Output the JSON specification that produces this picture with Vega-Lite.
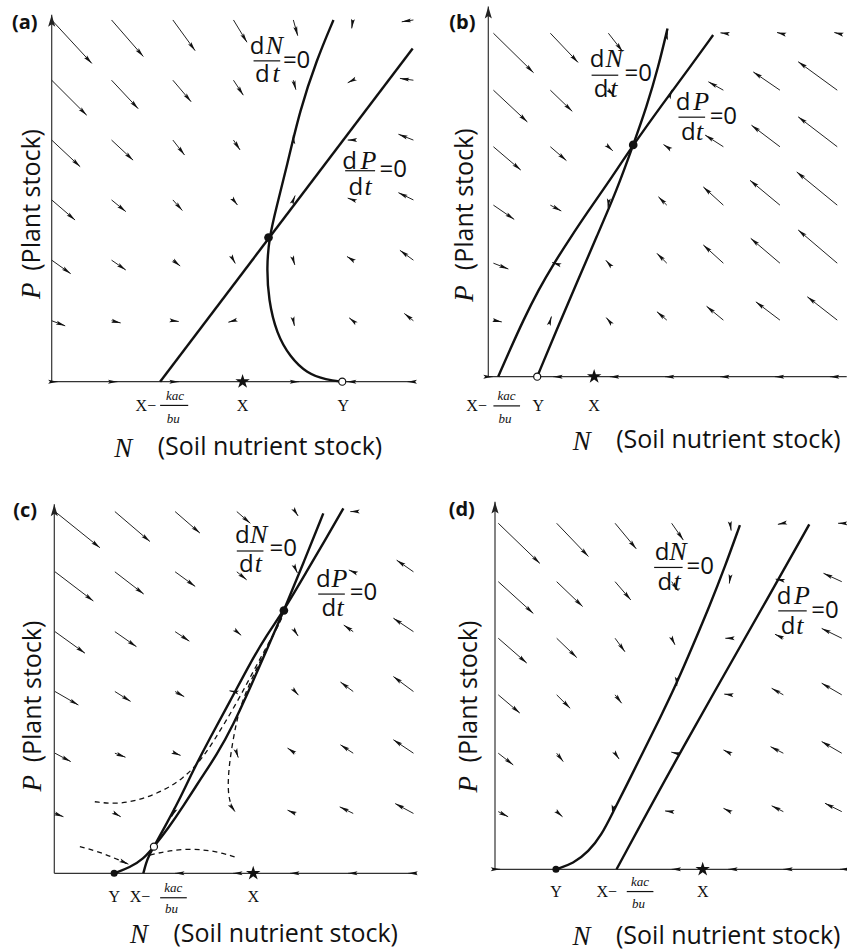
{
"$schema":"https://vega.github.io/schema/vega-lite/v6.json",
"background":"white",
"padding":0,
"config":{"view":{"stroke":null}},
"datasets":{
"ax":[
{"g":"a","n":0,"p":0,"n2":99.5,"p2":0},{"g":"a","n":0,"p":0,"n2":0,"p2":100.5},
{"g":"b","n":0,"p":0,"n2":98.2,"p2":0},{"g":"b","n":0,"p":0,"n2":0,"p2":101.4},
{"g":"c","n":0,"p":0,"n2":99.3,"p2":0},{"g":"c","n":0,"p":0,"n2":0,"p2":101.1},
{"g":"d","n":0,"p":0,"n2":96.3,"p2":0},{"g":"d","n":0,"p":0,"n2":0,"p2":100.7}],
"tip":[{"g":"a","n":0,"p":100.5},{"g":"b","n":0,"p":101.4},{"g":"c","n":0,"p":101.1},{"g":"d","n":0,"p":100.7}],
"vec":[
{"g":"a","n":0,"p":99.1,"n2":11.0,"p2":87.2},{"g":"a","n":16.4,"p":99.1,"n2":25.1,"p2":89.1},{"g":"a","n":33.2,"p":99.1,"n2":39.3,"p2":90.7},{"g":"a","n":49.8,"p":99.1,"n2":53.5,"p2":93.0},{"g":"a","n":66.2,"p":99.1,"n2":67.4,"p2":94.8},{"g":"a","n":82.5,"p":99.1,"n2":82.2,"p2":96.8},{"g":"a","n":99.1,"p":99.1,"n2":95.9,"p2":98.6},
{"g":"a","n":0,"p":82.6,"n2":9.6,"p2":73.0},{"g":"a","n":16.4,"p":82.6,"n2":23.7,"p2":74.8},{"g":"a","n":33.2,"p":82.6,"n2":38.2,"p2":76.7},{"g":"a","n":49.8,"p":82.6,"n2":52.5,"p2":78.5},{"g":"a","n":66.2,"p":82.6,"n2":66.9,"p2":80.0},{"g":"a","n":82.5,"p":82.6,"n2":81.1,"p2":81.9},{"g":"a","n":99.1,"p":82.6,"n2":95.4,"p2":83.1},
{"g":"a","n":0,"p":66.2,"n2":7.8,"p2":58.9},{"g":"a","n":16.4,"p":66.2,"n2":22.3,"p2":60.7},{"g":"a","n":33.2,"p":66.2,"n2":36.4,"p2":62.1},{"g":"a","n":49.8,"p":66.2,"n2":51.6,"p2":63.5},{"g":"a","n":66.2,"p":66.2,"n2":66.2,"p2":67.6},{"g":"a","n":82.5,"p":66.2,"n2":81.1,"p2":66.2},{"g":"a","n":99.1,"p":66.2,"n2":95.0,"p2":67.8},
{"g":"a","n":0,"p":49.8,"n2":6.4,"p2":44.3},{"g":"a","n":16.4,"p":49.8,"n2":20.3,"p2":46.6},{"g":"a","n":33.2,"p":49.8,"n2":35.8,"p2":46.9},{"g":"a","n":49.8,"p":49.8,"n2":50.9,"p2":48.4},{"g":"a","n":66.2,"p":49.8,"n2":66.7,"p2":51.0},{"g":"a","n":82.5,"p":49.8,"n2":81.1,"p2":50.3},{"g":"a","n":99.1,"p":49.8,"n2":95.0,"p2":51.8},
{"g":"a","n":0,"p":33.3,"n2":5.2,"p2":29.6},{"g":"a","n":16.4,"p":33.3,"n2":20.3,"p2":30.6},{"g":"a","n":33.2,"p":33.3,"n2":35.2,"p2":31.7},{"g":"a","n":49.8,"p":33.3,"n2":50.3,"p2":32.4},{"g":"a","n":66.2,"p":33.3,"n2":66.6,"p2":32.0},{"g":"a","n":82.5,"p":33.3,"n2":80.9,"p2":34.3},{"g":"a","n":99.1,"p":33.3,"n2":95.4,"p2":36.0},
{"g":"a","n":0,"p":16.7,"n2":3.7,"p2":15.3},{"g":"a","n":16.4,"p":16.7,"n2":18.9,"p2":16.1},{"g":"a","n":33.2,"p":16.7,"n2":34.8,"p2":16.5},{"g":"a","n":49.8,"p":16.7,"n2":48.4,"p2":16.3},{"g":"a","n":66.2,"p":16.7,"n2":66.5,"p2":15.3},{"g":"a","n":82.5,"p":16.7,"n2":81.5,"p2":17.5},{"g":"a","n":99.1,"p":16.7,"n2":96.6,"p2":18.7},
{"g":"a","n":0,"p":0,"n2":1.6,"p2":0},{"g":"a","n":16.4,"p":0,"n2":18.0,"p2":0},{"g":"a","n":33.2,"p":0,"n2":34.8,"p2":0},{"g":"a","n":66.2,"p":0,"n2":67.8,"p2":0},{"g":"a","n":82.5,"p":0,"n2":80.9,"p2":0},{"g":"a","n":99.1,"p":0,"n2":97.5,"p2":0},
{"g":"b","n":1.4,"p":94.1,"n2":12.4,"p2":83.3},{"g":"b","n":17.0,"p":94.1,"n2":24.6,"p2":86.1},{"g":"b","n":32.9,"p":94.1,"n2":36.8,"p2":89.1},{"g":"b","n":48.9,"p":93.6,"n2":49.1,"p2":94.8},{"g":"b","n":64.4,"p":94.1,"n2":63.6,"p2":94.2},{"g":"b","n":79.9,"p":94.1,"n2":79.1,"p2":94.3},{"g":"b","n":95.6,"p":94.1,"n2":94.8,"p2":94.3},
{"g":"b","n":1.4,"p":78.5,"n2":10.7,"p2":69.8},{"g":"b","n":17.0,"p":78.5,"n2":23.0,"p2":72.7},{"g":"b","n":32.9,"p":78.5,"n2":34.5,"p2":77.0},{"g":"b","n":49.9,"p":77.5,"n2":50.3,"p2":78.6},{"g":"b","n":64.4,"p":78.5,"n2":60.3,"p2":80.8},{"g":"b","n":79.9,"p":78.5,"n2":72.6,"p2":83.5},{"g":"b","n":95.6,"p":78.5,"n2":84.9,"p2":86.3},
{"g":"b","n":1.4,"p":63.0,"n2":8.9,"p2":56.6},{"g":"b","n":17.0,"p":63.0,"n2":21.4,"p2":59.2},{"g":"b","n":32.9,"p":63.0,"n2":34.1,"p2":61.9},{"g":"b","n":48.9,"p":63.0,"n2":48.0,"p2":63.6},{"g":"b","n":64.4,"p":63.0,"n2":59.4,"p2":66.2},{"g":"b","n":79.9,"p":63.0,"n2":72.1,"p2":68.9},{"g":"b","n":95.6,"p":63.0,"n2":84.9,"p2":71.2},
{"g":"b","n":1.4,"p":47.0,"n2":7.1,"p2":43.1},{"g":"b","n":17.0,"p":47.0,"n2":20.0,"p2":45.4},{"g":"b","n":32.9,"p":47.4,"n2":32.8,"p2":46.3},{"g":"b","n":48.9,"p":47.0,"n2":46.6,"p2":49.3},{"g":"b","n":64.4,"p":47.0,"n2":58.9,"p2":52.0},{"g":"b","n":79.9,"p":47.0,"n2":71.7,"p2":53.8},{"g":"b","n":95.6,"p":47.0,"n2":84.5,"p2":56.1},
{"g":"b","n":1.4,"p":31.1,"n2":5.5,"p2":29.5},{"g":"b","n":18.4,"p":31.0,"n2":17.5,"p2":31.3},{"g":"b","n":32.9,"p":31.1,"n2":32.2,"p2":31.9},{"g":"b","n":48.9,"p":31.1,"n2":46.2,"p2":33.8},{"g":"b","n":64.4,"p":31.1,"n2":58.9,"p2":36.1},{"g":"b","n":79.9,"p":31.1,"n2":71.9,"p2":37.9},{"g":"b","n":95.6,"p":31.1,"n2":84.9,"p2":40.2},
{"g":"b","n":1.4,"p":15.5,"n2":3.7,"p2":15.0},{"g":"b","n":17.0,"p":15.5,"n2":17.3,"p2":16.5},{"g":"b","n":32.9,"p":15.5,"n2":32.3,"p2":16.2},{"g":"b","n":48.9,"p":15.5,"n2":46.2,"p2":17.8},{"g":"b","n":64.4,"p":15.5,"n2":59.8,"p2":19.3},{"g":"b","n":79.9,"p":15.5,"n2":73.3,"p2":20.5},{"g":"b","n":95.6,"p":15.5,"n2":87.4,"p2":21.9},
{"g":"b","n":0,"p":0,"n2":1.2,"p2":0},{"g":"b","n":19.4,"p":0,"n2":17.8,"p2":0},{"g":"b","n":34.9,"p":0,"n2":33.3,"p2":0},{"g":"b","n":50.0,"p":0,"n2":48.4,"p2":0},{"g":"b","n":65.1,"p":0,"n2":63.5,"p2":0},{"g":"b","n":80.1,"p":0,"n2":78.5,"p2":0},{"g":"b","n":95.2,"p":0,"n2":93.6,"p2":0},
{"g":"c","n":0.2,"p":99.1,"n2":12.5,"p2":89.2},{"g":"c","n":16.6,"p":99.1,"n2":26.2,"p2":90.9},{"g":"c","n":33.1,"p":99.1,"n2":39.9,"p2":93.2},{"g":"c","n":50.0,"p":99.1,"n2":53.7,"p2":95.9},{"g":"c","n":66.0,"p":99.1,"n2":66.8,"p2":97.9},{"g":"c","n":81.9,"p":99.1,"n2":81.1,"p2":99.1},
{"g":"c","n":0.2,"p":82.6,"n2":10.7,"p2":74.6},{"g":"c","n":16.6,"p":82.6,"n2":24.5,"p2":76.5},{"g":"c","n":33.1,"p":82.6,"n2":38.6,"p2":78.6},{"g":"c","n":50.0,"p":82.6,"n2":52.7,"p2":80.4},{"g":"c","n":66.0,"p":83.6,"n2":66.6,"p2":82.3},{"g":"c","n":81.9,"p":82.6,"n2":80.7,"p2":83.1},{"g":"c","n":98.4,"p":82.6,"n2":93.8,"p2":85.8},
{"g":"c","n":0.2,"p":66.2,"n2":8.4,"p2":60.3},{"g":"c","n":16.6,"p":66.2,"n2":22.5,"p2":62.1},{"g":"c","n":33.1,"p":66.2,"n2":37.0,"p2":63.6},{"g":"c","n":50.0,"p":66.2,"n2":51.2,"p2":65.2},{"g":"c","n":66.0,"p":66.2,"n2":66.8,"p2":65.0},{"g":"c","n":81.9,"p":66.2,"n2":79.3,"p2":68.0},{"g":"c","n":98.4,"p":66.2,"n2":92.9,"p2":69.9},
{"g":"c","n":0.2,"p":49.8,"n2":6.6,"p2":46.1},{"g":"c","n":16.6,"p":49.8,"n2":20.9,"p2":47.1},{"g":"c","n":33.1,"p":49.8,"n2":35.6,"p2":48.4},{"g":"c","n":49.0,"p":49.8,"n2":48.0,"p2":50.0},{"g":"c","n":66.0,"p":49.8,"n2":66.9,"p2":48.8},{"g":"c","n":81.9,"p":49.8,"n2":78.4,"p2":52.4},{"g":"c","n":98.4,"p":49.8,"n2":92.9,"p2":53.9},
{"g":"c","n":0.2,"p":32.9,"n2":4.5,"p2":30.6},{"g":"c","n":16.6,"p":32.9,"n2":19.5,"p2":31.8},{"g":"c","n":33.1,"p":32.9,"n2":34.6,"p2":32.3},{"g":"c","n":50.0,"p":32.9,"n2":50.4,"p2":31.7},{"g":"c","n":66.0,"p":32.9,"n2":63.9,"p2":34.3},{"g":"c","n":81.9,"p":32.9,"n2":78.4,"p2":35.2},{"g":"c","n":98.4,"p":32.9,"n2":92.9,"p2":36.6},
{"g":"c","n":0.2,"p":16.4,"n2":2.5,"p2":15.5},{"g":"c","n":16.6,"p":16.4,"n2":18.2,"p2":15.5},{"g":"c","n":32.6,"p":16.4,"n2":32.1,"p2":15.4},{"g":"c","n":66.0,"p":16.4,"n2":63.9,"p2":17.3},{"g":"c","n":81.9,"p":16.4,"n2":78.2,"p2":18.2},{"g":"c","n":98.4,"p":16.4,"n2":93.4,"p2":19.1},
{"g":"c","n":34.7,"p":0,"n2":33.1,"p2":0},{"g":"c","n":50.6,"p":0,"n2":49.0,"p2":0},{"g":"c","n":66.2,"p":0,"n2":64.6,"p2":0},{"g":"c","n":82.1,"p":0,"n2":80.5,"p2":0},{"g":"c","n":98.6,"p":0,"n2":97.0,"p2":0},
{"g":"c","n":48.4,"p":18.4,"n2":49.5,"p2":16.9},{"g":"c","n":19.0,"p":3.1,"n2":20.3,"p2":2.5},
{"g":"d","n":0.9,"p":94.8,"n2":12.3,"p2":83.8},{"g":"d","n":16.9,"p":94.8,"n2":25.6,"p2":85.7},{"g":"d","n":32.9,"p":94.8,"n2":38.7,"p2":87.8},{"g":"d","n":48.4,"p":94.8,"n2":51.6,"p2":90.2},{"g":"d","n":64.4,"p":94.8,"n2":64.7,"p2":92.8},{"g":"d","n":79.0,"p":94.8,"n2":77.5,"p2":94.5},{"g":"d","n":95.0,"p":94.8,"n2":94.0,"p2":94.8},
{"g":"d","n":0.9,"p":78.8,"n2":10.5,"p2":70.1},{"g":"d","n":16.9,"p":78.8,"n2":24.0,"p2":72.0},{"g":"d","n":32.9,"p":78.8,"n2":37.2,"p2":73.8},{"g":"d","n":48.4,"p":78.8,"n2":50.2,"p2":76.3},{"g":"d","n":64.4,"p":79.8,"n2":64.2,"p2":78.3},{"g":"d","n":78.5,"p":79.2,"n2":76.9,"p2":79.5},{"g":"d","n":95.0,"p":78.8,"n2":90.0,"p2":81.1},
{"g":"d","n":0.9,"p":63.3,"n2":8.7,"p2":56.5},{"g":"d","n":16.9,"p":63.3,"n2":22.4,"p2":58.0},{"g":"d","n":32.9,"p":63.3,"n2":35.6,"p2":59.6},{"g":"d","n":48.4,"p":63.3,"n2":49.3,"p2":61.5},{"g":"d","n":64.4,"p":63.3,"n2":63.1,"p2":63.3},{"g":"d","n":79.0,"p":63.3,"n2":76.7,"p2":64.4},{"g":"d","n":95.0,"p":63.3,"n2":89.5,"p2":66.0},
{"g":"d","n":0.9,"p":47.8,"n2":6.8,"p2":42.8},{"g":"d","n":16.9,"p":47.8,"n2":20.6,"p2":44.1},{"g":"d","n":32.9,"p":47.8,"n2":34.7,"p2":45.5},{"g":"d","n":49.8,"p":51.5,"n2":49.8,"p2":50.2},{"g":"d","n":64.4,"p":47.8,"n2":62.8,"p2":48.0},{"g":"d","n":79.0,"p":47.8,"n2":75.8,"p2":49.6},{"g":"d","n":95.0,"p":47.8,"n2":89.5,"p2":51.0},
{"g":"d","n":0.9,"p":31.8,"n2":5.0,"p2":28.6},{"g":"d","n":16.9,"p":31.8,"n2":18.7,"p2":29.5},{"g":"d","n":32.9,"p":31.8,"n2":34.0,"p2":30.2},{"g":"d","n":49.6,"p":31.8,"n2":48.3,"p2":32.1},{"g":"d","n":64.4,"p":31.8,"n2":62.6,"p2":32.7},{"g":"d","n":79.0,"p":31.8,"n2":75.5,"p2":33.6},{"g":"d","n":95.0,"p":31.8,"n2":89.5,"p2":35.0},
{"g":"d","n":0.9,"p":15.8,"n2":3.6,"p2":14.4},{"g":"d","n":16.9,"p":15.8,"n2":18.5,"p2":14.4},{"g":"d","n":32.3,"p":16.4,"n2":32.1,"p2":15.1},{"g":"d","n":48.4,"p":15.8,"n2":46.6,"p2":16.0},{"g":"d","n":64.4,"p":15.8,"n2":62.6,"p2":16.7},{"g":"d","n":79.0,"p":15.8,"n2":75.8,"p2":17.4},{"g":"d","n":95.0,"p":15.8,"n2":90.4,"p2":18.1},
{"g":"d","n":0,"p":0,"n2":1.4,"p2":0},{"g":"d","n":50.0,"p":0,"n2":48.4,"p2":0},{"g":"d","n":65.5,"p":0,"n2":63.9,"p2":0},{"g":"d","n":80.6,"p":0,"n2":79.0,"p2":0},{"g":"d","n":96.1,"p":0,"n2":94.5,"p2":0}],
"cur":[
{"g":"a","c":"P","i":0,"n":29.7,"p":0},{"g":"a","c":"P","i":1,"n":98.9,"p":91.3},
{"g":"a","c":"N","i":0,"n":79.6,"p":0},{"g":"a","c":"N","i":1,"n":75.3,"p":0.5},{"g":"a","c":"N","i":2,"n":69.9,"p":2.3},{"g":"a","c":"N","i":3,"n":65.3,"p":6.8},{"g":"a","c":"N","i":4,"n":61.6,"p":13.2},{"g":"a","c":"N","i":5,"n":59.4,"p":22.4},{"g":"a","c":"N","i":6,"n":58.9,"p":31.5},{"g":"a","c":"N","i":7,"n":59.6,"p":39.5},{"g":"a","c":"N","i":8,"n":61.6,"p":47.9},{"g":"a","c":"N","i":9,"n":64.4,"p":58.9},{"g":"a","c":"N","i":10,"n":68.0,"p":74.4},{"g":"a","c":"N","i":11,"n":72.6,"p":88.2},{"g":"a","c":"N","i":12,"n":77.2,"p":99.1},
{"g":"b","c":"P","i":0,"n":2.7,"p":0},{"g":"b","c":"P","i":1,"n":5.9,"p":7.3},{"g":"b","c":"P","i":2,"n":9.6,"p":15.5},{"g":"b","c":"P","i":3,"n":13.7,"p":23.7},{"g":"b","c":"P","i":4,"n":18.0,"p":31.1},{"g":"b","c":"P","i":5,"n":22.4,"p":37.9},{"g":"b","c":"P","i":6,"n":26.9,"p":44.7},{"g":"b","c":"P","i":7,"n":32.4,"p":52.5},{"g":"b","c":"P","i":8,"n":39.7,"p":63.5},{"g":"b","c":"P","i":9,"n":47.9,"p":74.9},{"g":"b","c":"P","i":10,"n":55.3,"p":84.9},{"g":"b","c":"P","i":11,"n":61.6,"p":93.6},
{"g":"b","c":"N","i":0,"n":13.4,"p":0},{"g":"b","c":"N","i":1,"n":18.7,"p":12.8},{"g":"b","c":"N","i":2,"n":24.2,"p":25.6},{"g":"b","c":"N","i":3,"n":29.7,"p":38.4},{"g":"b","c":"N","i":4,"n":35.2,"p":51.1},{"g":"b","c":"N","i":5,"n":39.7,"p":63.5},{"g":"b","c":"N","i":6,"n":43.4,"p":74.0},{"g":"b","c":"N","i":7,"n":46.6,"p":84.9},{"g":"b","c":"N","i":8,"n":49.1,"p":95.4},
{"g":"c","c":"N","i":0,"n":16.4,"p":0},{"g":"c","c":"N","i":1,"n":20.7,"p":1.6},{"g":"c","c":"N","i":2,"n":24.4,"p":3.9},{"g":"c","c":"N","i":3,"n":27.3,"p":7.3},{"g":"c","c":"N","i":4,"n":31.2,"p":12.3},{"g":"c","c":"N","i":5,"n":35.3,"p":18.3},{"g":"c","c":"N","i":6,"n":39.9,"p":25.6},{"g":"c","c":"N","i":7,"n":44.5,"p":32.4},{"g":"c","c":"N","i":8,"n":49.0,"p":40.6},{"g":"c","c":"N","i":9,"n":53.6,"p":50.7},{"g":"c","c":"N","i":10,"n":58.2,"p":61.2},{"g":"c","c":"N","i":11,"n":62.9,"p":72.0},{"g":"c","c":"N","i":12,"n":68.2,"p":84.9},{"g":"c","c":"N","i":13,"n":73.7,"p":98.6},
{"g":"c","c":"P","i":0,"n":24.4,"p":0},{"g":"c","c":"P","i":1,"n":25.1,"p":2.7},{"g":"c","c":"P","i":2,"n":26.0,"p":5.0},{"g":"c","c":"P","i":3,"n":27.3,"p":7.3},{"g":"c","c":"P","i":4,"n":30.8,"p":13.7},{"g":"c","c":"P","i":5,"n":34.0,"p":19.6},{"g":"c","c":"P","i":6,"n":38.1,"p":28.3},{"g":"c","c":"P","i":7,"n":42.6,"p":37.0},{"g":"c","c":"P","i":8,"n":48.1,"p":47.0},{"g":"c","c":"P","i":9,"n":53.6,"p":57.5},{"g":"c","c":"P","i":10,"n":58.2,"p":65.3},{"g":"c","c":"P","i":11,"n":62.9,"p":72.0},{"g":"c","c":"P","i":12,"n":69.1,"p":82.6},{"g":"c","c":"P","i":13,"n":74.2,"p":91.3},{"g":"c","c":"P","i":14,"n":79.2,"p":100.0},
{"g":"d","c":"N","i":0,"n":16.7,"p":0},{"g":"d","c":"N","i":1,"n":21.5,"p":1.6},{"g":"d","c":"N","i":2,"n":25.6,"p":4.8},{"g":"d","c":"N","i":3,"n":29.2,"p":9.4},{"g":"d","c":"N","i":4,"n":32.4,"p":15.8},{"g":"d","c":"N","i":5,"n":36.1,"p":23.1},{"g":"d","c":"N","i":6,"n":40.6,"p":32.2},{"g":"d","c":"N","i":7,"n":45.2,"p":41.4},{"g":"d","c":"N","i":8,"n":49.8,"p":51.0},{"g":"d","c":"N","i":9,"n":54.3,"p":61.5},{"g":"d","c":"N","i":10,"n":58.9,"p":72.4},{"g":"d","c":"N","i":11,"n":63.0,"p":82.9},{"g":"d","c":"N","i":12,"n":67.1,"p":94.3},
{"g":"d","c":"P","i":0,"n":33.3,"p":0},{"g":"d","c":"P","i":1,"n":50.2,"p":31.3},{"g":"d","c":"P","i":2,"n":77.6,"p":79.3},{"g":"d","c":"P","i":3,"n":86.1,"p":94.5}],
"dash":[
{"g":"c","c":"d1","i":0,"n":11.1,"p":19.6},{"g":"c","c":"d1","i":1,"n":17.1,"p":18.9},{"g":"c","c":"d1","i":2,"n":23.5,"p":20.1},{"g":"c","c":"d1","i":3,"n":29.9,"p":22.6},{"g":"c","c":"d1","i":4,"n":35.3,"p":26.0},{"g":"c","c":"d1","i":5,"n":39.9,"p":30.6},{"g":"c","c":"d1","i":6,"n":43.6,"p":36.1},{"g":"c","c":"d1","i":7,"n":47.2,"p":42.0},{"g":"c","c":"d1","i":8,"n":50.9,"p":48.4},{"g":"c","c":"d1","i":9,"n":54.5,"p":55.3},{"g":"c","c":"d1","i":10,"n":58.2,"p":62.1},{"g":"c","c":"d1","i":11,"n":61.4,"p":68.0},
{"g":"c","c":"d2","i":0,"n":62.3,"p":69.9},{"g":"c","c":"d2","i":1,"n":58.2,"p":61.6},{"g":"c","c":"d2","i":2,"n":54.5,"p":54.3},{"g":"c","c":"d2","i":3,"n":51.8,"p":47.9},{"g":"c","c":"d2","i":4,"n":50.1,"p":42.5},{"g":"c","c":"d2","i":5,"n":48.9,"p":36.1},{"g":"c","c":"d2","i":6,"n":47.9,"p":29.7},{"g":"c","c":"d2","i":7,"n":47.5,"p":23.3},{"g":"c","c":"d2","i":8,"n":48.1,"p":19.2},{"g":"c","c":"d2","i":9,"n":49.5,"p":16.9},
{"g":"c","c":"d3","i":0,"n":7.0,"p":7.3},{"g":"c","c":"d3","i":1,"n":11.6,"p":6.1},{"g":"c","c":"d3","i":2,"n":16.2,"p":4.3},{"g":"c","c":"d3","i":3,"n":20.3,"p":2.5},
{"g":"c","c":"d4","i":0,"n":26.2,"p":5.0},{"g":"c","c":"d4","i":1,"n":30.8,"p":6.1},{"g":"c","c":"d4","i":2,"n":36.3,"p":6.7},{"g":"c","c":"d4","i":3,"n":41.7,"p":6.4},{"g":"c","c":"d4","i":4,"n":46.3,"p":5.5},{"g":"c","c":"d4","i":5,"n":50.0,"p":4.3}],
"pts":[
{"g":"a","k":"eq","n":59.4,"p":39.5},{"g":"a","k":"open","n":79.6,"p":0},{"g":"a","k":"star","n":52.3,"p":0},
{"g":"b","k":"eq","n":39.7,"p":63.5},{"g":"b","k":"open","n":13.4,"p":0},{"g":"b","k":"star","n":29.0,"p":0},
{"g":"c","k":"eq","n":62.9,"p":72.0},{"g":"c","k":"dot","n":16.4,"p":0},{"g":"c","k":"open","n":27.3,"p":7.3},{"g":"c","k":"star","n":54.5,"p":0},
{"g":"d","k":"dot","n":16.7,"p":0},{"g":"d","k":"star","n":56.9,"p":0}],
"bar":[
{"g":"a","n":55.3,"n2":62.6,"p":87.9},{"g":"a","n":80.4,"n2":88.6,"p":57.8},{"g":"a","n":29.7,"n2":37.4,"p":-6.5},
{"g":"b","n":28.3,"n2":35.6,"p":82.6},{"g":"b","n":52.1,"n2":59.4,"p":71.1},{"g":"b","n":1.4,"n2":8.7,"p":-8.0},
{"g":"c","n":50.0,"n2":57.3,"p":88.3},{"g":"c","n":72.3,"n2":79.6,"p":76.5},{"g":"c","n":29.0,"n2":36.3,"p":-6.7},
{"g":"d","n":43.6,"n2":51.4,"p":82.7},{"g":"d","n":77.6,"n2":85.4,"p":70.8},{"g":"d","n":36.1,"n2":43.4,"p":-6.1}],
"txt":[
{"g":"a","r":"pl","n":-7.4,"p":98.4,"t":"(a)"},
{"g":"a","r":"fs","n":56.3,"p":89.7,"t":"d"},{"g":"a","r":"fs","n":57.7,"p":82.0,"t":"d"},{"g":"a","r":"fs","n":67.1,"p":86.0,"t":"=0"},{"g":"a","r":"fs","n":81.6,"p":58.4,"t":"d"},{"g":"a","r":"fs","n":83.3,"p":51.1,"t":"d"},{"g":"a","r":"fs","n":93.6,"p":56.2,"t":"=0"},
{"g":"a","r":"fv","n":61.0,"p":89.7,"t":"N"},{"g":"a","r":"fv","n":61.5,"p":82.0,"t":"t"},{"g":"a","r":"fv","n":86.8,"p":58.4,"t":"P"},{"g":"a","r":"fv","n":86.7,"p":51.1,"t":"t"},
{"g":"a","r":"tk","n":25.8,"p":-7.9,"t":"X−"},{"g":"a","r":"tk","n":52.3,"p":-7.9,"t":"X"},{"g":"a","r":"tk","n":79.9,"p":-7.9,"t":"Y"},
{"g":"a","r":"tks","n":33.8,"p":-5.0,"t":"kac"},{"g":"a","r":"tks","n":33.3,"p":-11.2,"t":"bu"},
{"g":"a","r":"xv","n":19.6,"p":-20.5,"t":"N"},{"g":"a","r":"xt","n":59.8,"p":-20.1,"t":"(Soil nutrient stock)"},
{"g":"a","r":"yt","n":-3.1,"p":49.8,"t":"(Plant stock)"},{"g":"a","r":"yv","n":-3.1,"p":24.9,"t":"P"},
{"g":"b","r":"pl","n":-7.1,"p":97.0,"t":"(b)"},
{"g":"b","r":"fs","n":29.8,"p":84.9,"t":"d"},{"g":"b","r":"fs","n":30.9,"p":76.5,"t":"d"},{"g":"b","r":"fs","n":41.1,"p":81.1,"t":"=0"},{"g":"b","r":"fs","n":53.4,"p":73.1,"t":"d"},{"g":"b","r":"fs","n":54.8,"p":64.8,"t":"d"},{"g":"b","r":"fs","n":64.4,"p":69.2,"t":"=0"},
{"g":"b","r":"fv","n":34.5,"p":84.9,"t":"N"},{"g":"b","r":"fv","n":34.4,"p":76.5,"t":"t"},{"g":"b","r":"fv","n":58.3,"p":73.1,"t":"P"},{"g":"b","r":"fv","n":57.9,"p":64.8,"t":"t"},
{"g":"b","r":"tk","n":-3.2,"p":-9.3,"t":"X−"},{"g":"b","r":"tk","n":13.7,"p":-9.3,"t":"Y"},{"g":"b","r":"tk","n":29.0,"p":-9.3,"t":"X"},
{"g":"b","r":"tks","n":5.0,"p":-6.4,"t":"kac"},{"g":"b","r":"tks","n":4.6,"p":-12.6,"t":"bu"},
{"g":"b","r":"xv","n":25.6,"p":-20.1,"t":"N"},{"g":"b","r":"xt","n":65.8,"p":-19.6,"t":"(Soil nutrient stock)"},
{"g":"b","r":"yt","n":-4.3,"p":48.6,"t":"(Plant stock)"},{"g":"b","r":"yv","n":-4.3,"p":22.8,"t":"P"},
{"g":"c","r":"pl","n":-8.0,"p":99.3,"t":"(c)"},
{"g":"c","r":"fs","n":51.5,"p":90.4,"t":"d"},{"g":"c","r":"fs","n":52.6,"p":82.5,"t":"d"},{"g":"c","r":"fs","n":62.7,"p":86.8,"t":"=0"},{"g":"c","r":"fs","n":73.7,"p":78.5,"t":"d"},{"g":"c","r":"fs","n":75.2,"p":70.6,"t":"d"},{"g":"c","r":"fs","n":84.7,"p":74.9,"t":"=0"},
{"g":"c","r":"fv","n":56.0,"p":90.4,"t":"N"},{"g":"c","r":"fv","n":55.9,"p":82.5,"t":"t"},{"g":"c","r":"fv","n":78.1,"p":78.5,"t":"P"},{"g":"c","r":"fv","n":78.3,"p":70.6,"t":"t"},
{"g":"c","r":"tk","n":16.4,"p":-7.9,"t":"Y"},{"g":"c","r":"tk","n":23.5,"p":-7.9,"t":"X−"},{"g":"c","r":"tk","n":54.5,"p":-7.9,"t":"X"},
{"g":"c","r":"tks","n":32.6,"p":-5.0,"t":"kac"},{"g":"c","r":"tks","n":32.1,"p":-11.0,"t":"bu"},
{"g":"c","r":"xv","n":23.2,"p":-19.2,"t":"N"},{"g":"c","r":"xt","n":63.4,"p":-18.7,"t":"(Soil nutrient stock)"},
{"g":"c","r":"yt","n":-3.7,"p":49.8,"t":"(Plant stock)"},{"g":"c","r":"yv","n":-3.7,"p":24.7,"t":"P"},
{"g":"d","r":"pl","n":-9.1,"p":98.4,"t":"(d)"},
{"g":"d","r":"fs","n":45.8,"p":84.7,"t":"d"},{"g":"d","r":"fs","n":46.5,"p":76.5,"t":"d"},{"g":"d","r":"fs","n":56.2,"p":80.9,"t":"=0"},{"g":"d","r":"fs","n":79.2,"p":72.6,"t":"d"},{"g":"d","r":"fs","n":80.3,"p":64.4,"t":"d"},{"g":"d","r":"fs","n":90.4,"p":68.9,"t":"=0"},
{"g":"d","r":"fv","n":50.1,"p":84.7,"t":"N"},{"g":"d","r":"fv","n":49.9,"p":76.5,"t":"t"},{"g":"d","r":"fv","n":84.1,"p":72.6,"t":"P"},{"g":"d","r":"fv","n":83.5,"p":64.4,"t":"t"},
{"g":"d","r":"tk","n":16.7,"p":-7.5,"t":"Y"},{"g":"d","r":"tk","n":30.6,"p":-7.5,"t":"X−"},{"g":"d","r":"tk","n":56.9,"p":-7.5,"t":"X"},
{"g":"d","r":"tks","n":39.7,"p":-4.5,"t":"kac"},{"g":"d","r":"tks","n":39.3,"p":-10.7,"t":"bu"},
{"g":"d","r":"xv","n":23.7,"p":-20.7,"t":"N"},{"g":"d","r":"xt","n":63.9,"p":-20.5,"t":"(Soil nutrient stock)"},
{"g":"d","r":"yt","n":-4.8,"p":48.7,"t":"(Plant stock)"},{"g":"d","r":"yv","n":-4.8,"p":23.3,"t":"P"}]
},
"spacing":0,
"vconcat":[
{"spacing":0,"bounds":"flush","hconcat":[
{"width":430,"height":475,
"encoding":{"x":{"field":"n","type":"quantitative","scale":{"domain":[-14.164,103.644],"nice":false,"zero":false},"axis":null},"y":{"field":"p","type":"quantitative","scale":{"domain":[-25.562,104.575],"nice":false,"zero":false},"axis":null}},
"layer":[
{"data":{"name":"ax"},"transform":[{"filter":"datum.g=='a'"}],"mark":{"type":"rule","color":"#333","strokeWidth":1.2},"encoding":{"x2":{"field":"n2"},"y2":{"field":"p2"}}},
{"data":{"name":"tip"},"transform":[{"filter":"datum.g=='a'"}],"mark":{"type":"point","shape":"M0,0L-0.75,2.5L0,2L0.75,2.5Z","filled":true,"color":"#222","size":90,"opacity":1}},
{"data":{"name":"vec"},"transform":[{"filter":"datum.g=='a'"}],"mark":{"type":"rule","color":"#222","strokeWidth":1},"encoding":{"x2":{"field":"n2"},"y2":{"field":"p2"}}},
{"data":{"name":"vec"},"transform":[{"filter":"datum.g=='a'"},{"calculate":"atan2(datum.n2-datum.n,datum.p2-datum.p)*180/PI","as":"ang"}],"mark":{"type":"point","shape":"M0,0L-0.55,2.6L0,2.1L0.55,2.6Z","filled":true,"color":"#111","size":52,"opacity":1},"encoding":{"x":{"field":"n2","type":"quantitative","scale":{"domain":[-14.164,103.644],"nice":false,"zero":false},"axis":null},"y":{"field":"p2","type":"quantitative","scale":{"domain":[-25.562,104.575],"nice":false,"zero":false},"axis":null},"angle":{"field":"ang","type":"quantitative","scale":null}}},
{"data":{"name":"cur"},"transform":[{"filter":"datum.g=='a'"}],"mark":{"type":"line","color":"#111","strokeWidth":2.4,"interpolate":"basis"},"encoding":{"detail":{"field":"c"},"order":{"field":"i","type":"quantitative"}}},
{"data":{"name":"bar"},"transform":[{"filter":"datum.g=='a'"}],"mark":{"type":"rule","color":"#111","strokeWidth":1.2},"encoding":{"x2":{"field":"n2"}}},
{"data":{"name":"pts"},"transform":[{"filter":"datum.g=='a' && datum.k=='eq'"}],"mark":{"type":"point","shape":"circle","filled":true,"color":"#111","size":75,"opacity":1}},
{"data":{"name":"pts"},"transform":[{"filter":"datum.g=='a' && datum.k=='open'"}],"mark":{"type":"point","shape":"circle","filled":true,"fill":"white","stroke":"#111","strokeWidth":1.2,"size":50,"opacity":1}},
{"data":{"name":"pts"},"transform":[{"filter":"datum.g=='a' && datum.k=='star'"}],"mark":{"type":"point","shape":"M0,-1L0.2245,-0.309L0.951,-0.309L0.363,0.118L0.588,0.809L0,0.382L-0.588,0.809L-0.363,0.118L-0.951,-0.309L-0.2245,-0.309Z","filled":true,"color":"#111","size":230,"opacity":1}},
{"data":{"name":"txt"},"transform":[{"filter":"datum.g=='a' && datum.r=='pl'"}],"mark":{"type":"text","font":"Open Sans","fontWeight":"bold","fontSize":20,"align":"center","baseline":"middle","color":"#111"},"encoding":{"text":{"field":"t"}}},
{"data":{"name":"txt"},"transform":[{"filter":"datum.g=='a' && datum.r=='fs'"}],"mark":{"type":"text","font":"Open Sans","fontSize":24,"align":"center","baseline":"alphabetic","color":"#111"},"encoding":{"text":{"field":"t"}}},
{"data":{"name":"txt"},"transform":[{"filter":"datum.g=='a' && datum.r=='fv'"}],"mark":{"type":"text","font":"Liberation Serif","fontStyle":"italic","fontSize":26,"align":"center","baseline":"alphabetic","color":"#111"},"encoding":{"text":{"field":"t"}}},
{"data":{"name":"txt"},"transform":[{"filter":"datum.g=='a' && datum.r=='tk'"}],"mark":{"type":"text","font":"Liberation Serif","fontSize":16,"align":"center","baseline":"alphabetic","color":"#111"},"encoding":{"text":{"field":"t"}}},
{"data":{"name":"txt"},"transform":[{"filter":"datum.g=='a' && datum.r=='tks'"}],"mark":{"type":"text","font":"Liberation Serif","fontStyle":"italic","fontSize":13,"align":"center","baseline":"alphabetic","color":"#111"},"encoding":{"text":{"field":"t"}}},
{"data":{"name":"txt"},"transform":[{"filter":"datum.g=='a' && datum.r=='xt'"}],"mark":{"type":"text","font":"Open Sans","fontSize":25,"align":"center","baseline":"alphabetic","color":"#111"},"encoding":{"text":{"field":"t"}}},
{"data":{"name":"txt"},"transform":[{"filter":"datum.g=='a' && datum.r=='xv'"}],"mark":{"type":"text","font":"Liberation Serif","fontStyle":"italic","fontSize":27,"align":"center","baseline":"alphabetic","color":"#111"},"encoding":{"text":{"field":"t"}}},
{"data":{"name":"txt"},"transform":[{"filter":"datum.g=='a' && datum.r=='yt'"}],"mark":{"type":"text","font":"Open Sans","fontSize":25,"align":"center","baseline":"alphabetic","angle":270,"color":"#111"},"encoding":{"text":{"field":"t"}}},
{"data":{"name":"txt"},"transform":[{"filter":"datum.g=='a' && datum.r=='yv'"}],"mark":{"type":"text","font":"Liberation Serif","fontStyle":"italic","fontSize":27,"align":"center","baseline":"alphabetic","angle":270,"color":"#111"},"encoding":{"text":{"field":"t"}}}
]},
{"width":417,"height":475,
"encoding":{"x":{"field":"n","type":"quantitative","scale":{"domain":[-15.973,98.274],"nice":false,"zero":false},"axis":null},"y":{"field":"p","type":"quantitative","scale":{"domain":[-26.932,103.205],"nice":false,"zero":false},"axis":null}},
"layer":[
{"data":{"name":"ax"},"transform":[{"filter":"datum.g=='b'"}],"mark":{"type":"rule","color":"#333","strokeWidth":1.2},"encoding":{"x2":{"field":"n2"},"y2":{"field":"p2"}}},
{"data":{"name":"tip"},"transform":[{"filter":"datum.g=='b'"}],"mark":{"type":"point","shape":"M0,0L-0.75,2.5L0,2L0.75,2.5Z","filled":true,"color":"#222","size":90,"opacity":1}},
{"data":{"name":"vec"},"transform":[{"filter":"datum.g=='b'"}],"mark":{"type":"rule","color":"#222","strokeWidth":1},"encoding":{"x2":{"field":"n2"},"y2":{"field":"p2"}}},
{"data":{"name":"vec"},"transform":[{"filter":"datum.g=='b'"},{"calculate":"atan2(datum.n2-datum.n,datum.p2-datum.p)*180/PI","as":"ang"}],"mark":{"type":"point","shape":"M0,0L-0.55,2.6L0,2.1L0.55,2.6Z","filled":true,"color":"#111","size":52,"opacity":1},"encoding":{"x":{"field":"n2","type":"quantitative","scale":{"domain":[-15.973,98.274],"nice":false,"zero":false},"axis":null},"y":{"field":"p2","type":"quantitative","scale":{"domain":[-26.932,103.205],"nice":false,"zero":false},"axis":null},"angle":{"field":"ang","type":"quantitative","scale":null}}},
{"data":{"name":"cur"},"transform":[{"filter":"datum.g=='b'"}],"mark":{"type":"line","color":"#111","strokeWidth":2.4,"interpolate":"basis"},"encoding":{"detail":{"field":"c"},"order":{"field":"i","type":"quantitative"}}},
{"data":{"name":"bar"},"transform":[{"filter":"datum.g=='b'"}],"mark":{"type":"rule","color":"#111","strokeWidth":1.2},"encoding":{"x2":{"field":"n2"}}},
{"data":{"name":"pts"},"transform":[{"filter":"datum.g=='b' && datum.k=='eq'"}],"mark":{"type":"point","shape":"circle","filled":true,"color":"#111","size":75,"opacity":1}},
{"data":{"name":"pts"},"transform":[{"filter":"datum.g=='b' && datum.k=='open'"}],"mark":{"type":"point","shape":"circle","filled":true,"fill":"white","stroke":"#111","strokeWidth":1.2,"size":50,"opacity":1}},
{"data":{"name":"pts"},"transform":[{"filter":"datum.g=='b' && datum.k=='star'"}],"mark":{"type":"point","shape":"M0,-1L0.2245,-0.309L0.951,-0.309L0.363,0.118L0.588,0.809L0,0.382L-0.588,0.809L-0.363,0.118L-0.951,-0.309L-0.2245,-0.309Z","filled":true,"color":"#111","size":230,"opacity":1}},
{"data":{"name":"txt"},"transform":[{"filter":"datum.g=='b' && datum.r=='pl'"}],"mark":{"type":"text","font":"Open Sans","fontWeight":"bold","fontSize":20,"align":"center","baseline":"middle","color":"#111"},"encoding":{"text":{"field":"t"}}},
{"data":{"name":"txt"},"transform":[{"filter":"datum.g=='b' && datum.r=='fs'"}],"mark":{"type":"text","font":"Open Sans","fontSize":24,"align":"center","baseline":"alphabetic","color":"#111"},"encoding":{"text":{"field":"t"}}},
{"data":{"name":"txt"},"transform":[{"filter":"datum.g=='b' && datum.r=='fv'"}],"mark":{"type":"text","font":"Liberation Serif","fontStyle":"italic","fontSize":26,"align":"center","baseline":"alphabetic","color":"#111"},"encoding":{"text":{"field":"t"}}},
{"data":{"name":"txt"},"transform":[{"filter":"datum.g=='b' && datum.r=='tk'"}],"mark":{"type":"text","font":"Liberation Serif","fontSize":16,"align":"center","baseline":"alphabetic","color":"#111"},"encoding":{"text":{"field":"t"}}},
{"data":{"name":"txt"},"transform":[{"filter":"datum.g=='b' && datum.r=='tks'"}],"mark":{"type":"text","font":"Liberation Serif","fontStyle":"italic","fontSize":13,"align":"center","baseline":"alphabetic","color":"#111"},"encoding":{"text":{"field":"t"}}},
{"data":{"name":"txt"},"transform":[{"filter":"datum.g=='b' && datum.r=='xt'"}],"mark":{"type":"text","font":"Open Sans","fontSize":25,"align":"center","baseline":"alphabetic","color":"#111"},"encoding":{"text":{"field":"t"}}},
{"data":{"name":"txt"},"transform":[{"filter":"datum.g=='b' && datum.r=='xv'"}],"mark":{"type":"text","font":"Liberation Serif","fontStyle":"italic","fontSize":27,"align":"center","baseline":"alphabetic","color":"#111"},"encoding":{"text":{"field":"t"}}},
{"data":{"name":"txt"},"transform":[{"filter":"datum.g=='b' && datum.r=='yt'"}],"mark":{"type":"text","font":"Open Sans","fontSize":25,"align":"center","baseline":"alphabetic","angle":270,"color":"#111"},"encoding":{"text":{"field":"t"}}},
{"data":{"name":"txt"},"transform":[{"filter":"datum.g=='b' && datum.r=='yv'"}],"mark":{"type":"text","font":"Liberation Serif","fontStyle":"italic","fontSize":27,"align":"center","baseline":"alphabetic","angle":270,"color":"#111"},"encoding":{"text":{"field":"t"}}}
]}
]},
{"spacing":0,"bounds":"flush","hconcat":[
{"width":430,"height":476,
"encoding":{"x":{"field":"n","type":"quantitative","scale":{"domain":[-14.877,102.932],"nice":false,"zero":false},"axis":null},"y":{"field":"p","type":"quantitative","scale":{"domain":[-21.288,109.123],"nice":false,"zero":false},"axis":null}},
"layer":[
{"data":{"name":"ax"},"transform":[{"filter":"datum.g=='c'"}],"mark":{"type":"rule","color":"#333","strokeWidth":1.2},"encoding":{"x2":{"field":"n2"},"y2":{"field":"p2"}}},
{"data":{"name":"tip"},"transform":[{"filter":"datum.g=='c'"}],"mark":{"type":"point","shape":"M0,0L-0.75,2.5L0,2L0.75,2.5Z","filled":true,"color":"#222","size":90,"opacity":1}},
{"data":{"name":"vec"},"transform":[{"filter":"datum.g=='c'"}],"mark":{"type":"rule","color":"#222","strokeWidth":1},"encoding":{"x2":{"field":"n2"},"y2":{"field":"p2"}}},
{"data":{"name":"vec"},"transform":[{"filter":"datum.g=='c'"},{"calculate":"atan2(datum.n2-datum.n,datum.p2-datum.p)*180/PI","as":"ang"}],"mark":{"type":"point","shape":"M0,0L-0.55,2.6L0,2.1L0.55,2.6Z","filled":true,"color":"#111","size":52,"opacity":1},"encoding":{"x":{"field":"n2","type":"quantitative","scale":{"domain":[-14.877,102.932],"nice":false,"zero":false},"axis":null},"y":{"field":"p2","type":"quantitative","scale":{"domain":[-21.288,109.123],"nice":false,"zero":false},"axis":null},"angle":{"field":"ang","type":"quantitative","scale":null}}},
{"data":{"name":"cur"},"transform":[{"filter":"datum.g=='c'"}],"mark":{"type":"line","color":"#111","strokeWidth":2.4,"interpolate":"basis"},"encoding":{"detail":{"field":"c"},"order":{"field":"i","type":"quantitative"}}},
{"data":{"name":"dash"},"transform":[{"filter":"datum.g=='c'"}],"mark":{"type":"line","color":"#111","strokeWidth":1.3,"strokeDash":[5,4],"interpolate":"basis"},"encoding":{"detail":{"field":"c"},"order":{"field":"i","type":"quantitative"}}},
{"data":{"name":"bar"},"transform":[{"filter":"datum.g=='c'"}],"mark":{"type":"rule","color":"#111","strokeWidth":1.2},"encoding":{"x2":{"field":"n2"}}},
{"data":{"name":"pts"},"transform":[{"filter":"datum.g=='c' && datum.k=='eq'"}],"mark":{"type":"point","shape":"circle","filled":true,"color":"#111","size":75,"opacity":1}},
{"data":{"name":"pts"},"transform":[{"filter":"datum.g=='c' && datum.k=='dot'"}],"mark":{"type":"point","shape":"circle","filled":true,"color":"#111","size":50,"opacity":1}},
{"data":{"name":"pts"},"transform":[{"filter":"datum.g=='c' && datum.k=='open'"}],"mark":{"type":"point","shape":"circle","filled":true,"fill":"white","stroke":"#111","strokeWidth":1.2,"size":50,"opacity":1}},
{"data":{"name":"pts"},"transform":[{"filter":"datum.g=='c' && datum.k=='star'"}],"mark":{"type":"point","shape":"M0,-1L0.2245,-0.309L0.951,-0.309L0.363,0.118L0.588,0.809L0,0.382L-0.588,0.809L-0.363,0.118L-0.951,-0.309L-0.2245,-0.309Z","filled":true,"color":"#111","size":230,"opacity":1}},
{"data":{"name":"txt"},"transform":[{"filter":"datum.g=='c' && datum.r=='pl'"}],"mark":{"type":"text","font":"Open Sans","fontWeight":"bold","fontSize":20,"align":"center","baseline":"middle","color":"#111"},"encoding":{"text":{"field":"t"}}},
{"data":{"name":"txt"},"transform":[{"filter":"datum.g=='c' && datum.r=='fs'"}],"mark":{"type":"text","font":"Open Sans","fontSize":24,"align":"center","baseline":"alphabetic","color":"#111"},"encoding":{"text":{"field":"t"}}},
{"data":{"name":"txt"},"transform":[{"filter":"datum.g=='c' && datum.r=='fv'"}],"mark":{"type":"text","font":"Liberation Serif","fontStyle":"italic","fontSize":26,"align":"center","baseline":"alphabetic","color":"#111"},"encoding":{"text":{"field":"t"}}},
{"data":{"name":"txt"},"transform":[{"filter":"datum.g=='c' && datum.r=='tk'"}],"mark":{"type":"text","font":"Liberation Serif","fontSize":16,"align":"center","baseline":"alphabetic","color":"#111"},"encoding":{"text":{"field":"t"}}},
{"data":{"name":"txt"},"transform":[{"filter":"datum.g=='c' && datum.r=='tks'"}],"mark":{"type":"text","font":"Liberation Serif","fontStyle":"italic","fontSize":13,"align":"center","baseline":"alphabetic","color":"#111"},"encoding":{"text":{"field":"t"}}},
{"data":{"name":"txt"},"transform":[{"filter":"datum.g=='c' && datum.r=='xt'"}],"mark":{"type":"text","font":"Open Sans","fontSize":25,"align":"center","baseline":"alphabetic","color":"#111"},"encoding":{"text":{"field":"t"}}},
{"data":{"name":"txt"},"transform":[{"filter":"datum.g=='c' && datum.r=='xv'"}],"mark":{"type":"text","font":"Liberation Serif","fontStyle":"italic","fontSize":27,"align":"center","baseline":"alphabetic","color":"#111"},"encoding":{"text":{"field":"t"}}},
{"data":{"name":"txt"},"transform":[{"filter":"datum.g=='c' && datum.r=='yt'"}],"mark":{"type":"text","font":"Open Sans","fontSize":25,"align":"center","baseline":"alphabetic","angle":270,"color":"#111"},"encoding":{"text":{"field":"t"}}},
{"data":{"name":"txt"},"transform":[{"filter":"datum.g=='c' && datum.r=='yv'"}],"mark":{"type":"text","font":"Liberation Serif","fontStyle":"italic","fontSize":27,"align":"center","baseline":"alphabetic","angle":270,"color":"#111"},"encoding":{"text":{"field":"t"}}}
]},
{"width":417,"height":476,
"encoding":{"x":{"field":"n","type":"quantitative","scale":{"domain":[-17.808,96.438],"nice":false,"zero":false},"axis":null},"y":{"field":"p","type":"quantitative","scale":{"domain":[-22.384,108.027],"nice":false,"zero":false},"axis":null}},
"layer":[
{"data":{"name":"ax"},"transform":[{"filter":"datum.g=='d'"}],"mark":{"type":"rule","color":"#333","strokeWidth":1.2},"encoding":{"x2":{"field":"n2"},"y2":{"field":"p2"}}},
{"data":{"name":"tip"},"transform":[{"filter":"datum.g=='d'"}],"mark":{"type":"point","shape":"M0,0L-0.75,2.5L0,2L0.75,2.5Z","filled":true,"color":"#222","size":90,"opacity":1}},
{"data":{"name":"vec"},"transform":[{"filter":"datum.g=='d'"}],"mark":{"type":"rule","color":"#222","strokeWidth":1},"encoding":{"x2":{"field":"n2"},"y2":{"field":"p2"}}},
{"data":{"name":"vec"},"transform":[{"filter":"datum.g=='d'"},{"calculate":"atan2(datum.n2-datum.n,datum.p2-datum.p)*180/PI","as":"ang"}],"mark":{"type":"point","shape":"M0,0L-0.55,2.6L0,2.1L0.55,2.6Z","filled":true,"color":"#111","size":52,"opacity":1},"encoding":{"x":{"field":"n2","type":"quantitative","scale":{"domain":[-17.808,96.438],"nice":false,"zero":false},"axis":null},"y":{"field":"p2","type":"quantitative","scale":{"domain":[-22.384,108.027],"nice":false,"zero":false},"axis":null},"angle":{"field":"ang","type":"quantitative","scale":null}}},
{"data":{"name":"cur"},"transform":[{"filter":"datum.g=='d'"}],"mark":{"type":"line","color":"#111","strokeWidth":2.4,"interpolate":"basis"},"encoding":{"detail":{"field":"c"},"order":{"field":"i","type":"quantitative"}}},
{"data":{"name":"bar"},"transform":[{"filter":"datum.g=='d'"}],"mark":{"type":"rule","color":"#111","strokeWidth":1.2},"encoding":{"x2":{"field":"n2"}}},
{"data":{"name":"pts"},"transform":[{"filter":"datum.g=='d' && datum.k=='dot'"}],"mark":{"type":"point","shape":"circle","filled":true,"color":"#111","size":50,"opacity":1}},
{"data":{"name":"pts"},"transform":[{"filter":"datum.g=='d' && datum.k=='star'"}],"mark":{"type":"point","shape":"M0,-1L0.2245,-0.309L0.951,-0.309L0.363,0.118L0.588,0.809L0,0.382L-0.588,0.809L-0.363,0.118L-0.951,-0.309L-0.2245,-0.309Z","filled":true,"color":"#111","size":230,"opacity":1}},
{"data":{"name":"txt"},"transform":[{"filter":"datum.g=='d' && datum.r=='pl'"}],"mark":{"type":"text","font":"Open Sans","fontWeight":"bold","fontSize":20,"align":"center","baseline":"middle","color":"#111"},"encoding":{"text":{"field":"t"}}},
{"data":{"name":"txt"},"transform":[{"filter":"datum.g=='d' && datum.r=='fs'"}],"mark":{"type":"text","font":"Open Sans","fontSize":24,"align":"center","baseline":"alphabetic","color":"#111"},"encoding":{"text":{"field":"t"}}},
{"data":{"name":"txt"},"transform":[{"filter":"datum.g=='d' && datum.r=='fv'"}],"mark":{"type":"text","font":"Liberation Serif","fontStyle":"italic","fontSize":26,"align":"center","baseline":"alphabetic","color":"#111"},"encoding":{"text":{"field":"t"}}},
{"data":{"name":"txt"},"transform":[{"filter":"datum.g=='d' && datum.r=='tk'"}],"mark":{"type":"text","font":"Liberation Serif","fontSize":16,"align":"center","baseline":"alphabetic","color":"#111"},"encoding":{"text":{"field":"t"}}},
{"data":{"name":"txt"},"transform":[{"filter":"datum.g=='d' && datum.r=='tks'"}],"mark":{"type":"text","font":"Liberation Serif","fontStyle":"italic","fontSize":13,"align":"center","baseline":"alphabetic","color":"#111"},"encoding":{"text":{"field":"t"}}},
{"data":{"name":"txt"},"transform":[{"filter":"datum.g=='d' && datum.r=='xt'"}],"mark":{"type":"text","font":"Open Sans","fontSize":25,"align":"center","baseline":"alphabetic","color":"#111"},"encoding":{"text":{"field":"t"}}},
{"data":{"name":"txt"},"transform":[{"filter":"datum.g=='d' && datum.r=='xv'"}],"mark":{"type":"text","font":"Liberation Serif","fontStyle":"italic","fontSize":27,"align":"center","baseline":"alphabetic","color":"#111"},"encoding":{"text":{"field":"t"}}},
{"data":{"name":"txt"},"transform":[{"filter":"datum.g=='d' && datum.r=='yt'"}],"mark":{"type":"text","font":"Open Sans","fontSize":25,"align":"center","baseline":"alphabetic","angle":270,"color":"#111"},"encoding":{"text":{"field":"t"}}},
{"data":{"name":"txt"},"transform":[{"filter":"datum.g=='d' && datum.r=='yv'"}],"mark":{"type":"text","font":"Liberation Serif","fontStyle":"italic","fontSize":27,"align":"center","baseline":"alphabetic","angle":270,"color":"#111"},"encoding":{"text":{"field":"t"}}}
]}
]}
]
}
